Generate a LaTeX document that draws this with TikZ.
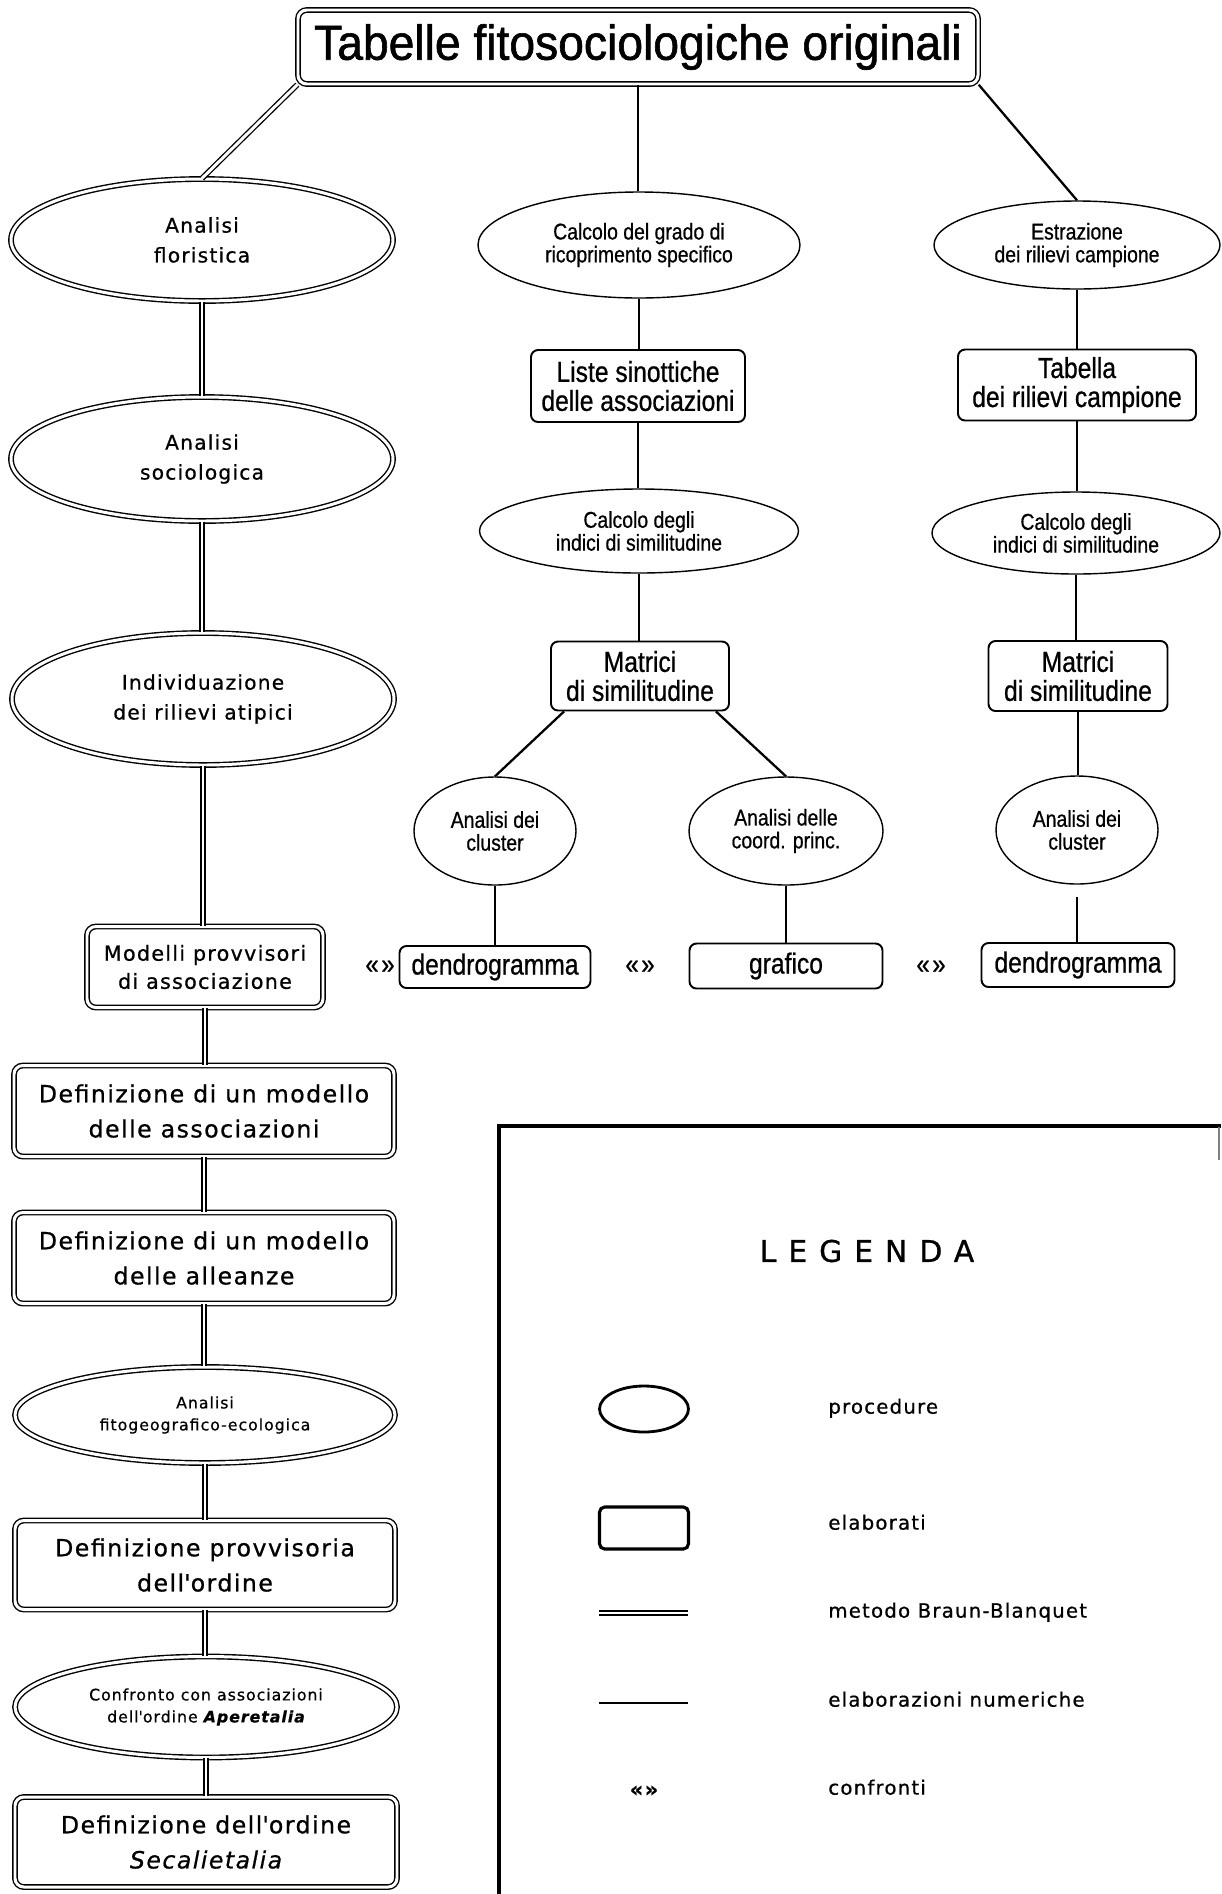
\documentclass[tikz,border=0pt]{standalone}
\usepackage{fontspec}
\setmainfont{Liberation Sans}
\newfontfamily\titlef[FakeStretch=0.94,FakeBold=1.2]{Liberation Sans}
\newfontfamily\condf[FakeStretch=0.85,FakeBold=0.7]{Liberation Sans}
\newfontfamily\widef[LetterSpace=6,FakeBold=0.7]{DejaVu Sans}
\newfontfamily\legf[LetterSpace=40,FakeBold=0.9]{DejaVu Sans}
\usetikzlibrary{shapes.geometric,calc}
\begin{document}
\begin{tikzpicture}[x=0.02cm,y=-0.02cm,
  sz/.style 2 args={minimum width=#1*0.02cm, minimum height=#2*0.02cm},
  proctwo/.style={ellipse, draw, double, double distance=1.7pt, line width=0.8pt, inner sep=0pt, align=center},
  elabtwo/.style={rectangle, rounded corners=5pt, draw, double, double distance=1.7pt, line width=0.8pt, inner sep=0pt, align=center},
  procone/.style={ellipse, draw, line width=0.8pt, inner sep=0pt, align=center},
  elabone/.style={rectangle, rounded corners=4pt, draw, line width=1.1pt, inner sep=0pt, align=center},
  bb/.style={double, double distance=1.7pt, line width=0.75pt},
  num/.style={line width=0.7pt},
  numthick/.style={line width=1.3pt},
  fbigbox/.style={font=\widef\fontsize{13.5}{20}\selectfont},
  fmodel/.style={font=\widef\fontsize{11.8}{16}\selectfont},
  fbigell/.style={font=\widef\fontsize{11.5}{17}\selectfont},
  fsmallell/.style={font=\widef\fontsize{9}{12.5}\selectfont},
  fcbox/.style={font=\condf\fontsize{16.5}{16.5}\selectfont},
  fcell/.style={font=\condf\fontsize{13}{13}\selectfont},
  cmp/.style={inner sep=0pt, anchor=mid, font=\condf\fontsize{16}{16}\selectfont},
  leglabel/.style={inner sep=0pt, anchor=mid west, font=\widef\fontsize{11.25}{13}\selectfont}
]
\fill[white] (0,0) rectangle (1221,1894);
\useasboundingbox (0,0) rectangle (1221,1894);

% title
\node[elabtwo, sz={680}{74}, font=\titlef\fontsize{28}{30}\selectfont] (title) at (638,47) {Tabelle fitosociologiche originali};

% left column (Braun-Blanquet)
\node[proctwo, sz={382}{122}, fbigell] (flor) at (202,240) {Analisi\\floristica};
\node[proctwo, sz={382}{124}, fbigell] (socio) at (202,459) {Analisi\\sociologica};
\node[proctwo, sz={382}{132}, fbigell] (indiv) at (203,699) {Individuazione\\dei rilievi atipici};
\node[elabtwo, sz={236}{81}, fmodel] (modelli) at (205,967) {Modelli provvisori\\di associazione};
\node[elabtwo, sz={380}{91}, fbigbox] (defa) at (204,1111) {Definizione di un modello\\delle associazioni};
\node[elabtwo, sz={380}{91}, fbigbox] (defb) at (204,1258) {Definizione di un modello\\delle alleanze};
\node[proctwo, sz={380}{96}, fsmallell] (fito) at (205,1415) {Analisi\\fitogeografico-ecologica};
\node[elabtwo, sz={380}{89}, fbigbox] (defprov) at (205,1565) {Definizione provvisoria\\dell\textquotesingle ordine};
\node[proctwo, sz={382}{101}, fsmallell] (confr) at (206,1707) {Confronto con associazioni\\dell\textquotesingle ordine {\bfseries\itshape Aperetalia}};
\node[elabtwo, sz={382}{90}, fbigbox] (deford) at (206,1842) {Definizione dell\textquotesingle ordine\\{\itshape Secalietalia}};

% middle column
\node[procone, sz={322}{106}, fcell] (calca) at (639,245) {Calcolo del grado di\\ricoprimento specifico};
\node[elabone, sz={214}{72}, fcbox] (liste) at (638,386) {Liste sinottiche\\delle associazioni};
\node[procone, sz={319}{84}, fcell] (calcb) at (639,531) {Calcolo degli\\indici di similitudine};
\node[elabone, sz={178}{69}, fcbox] (matra) at (640,676) {Matrici\\di similitudine};
\node[procone, sz={162}{108}, fcell] (clusa) at (495,831) {Analisi dei\\cluster};
\node[procone, sz={194}{108}, fcell] (coord) at (786,831) {Analisi delle\\coord. princ.};
\node[elabone, sz={191}{42}, fcbox] (dendra) at (495,967) {dendrogramma};
\node[elabone, sz={193}{45}, fcbox] (graf) at (786,966) {grafico};

% right column
\node[procone, sz={286}{88}, fcell] (estr) at (1077,245) {Estrazione\\dei rilievi campione};
\node[elabone, sz={238}{71}, fcbox] (tab) at (1077,385) {Tabella\\dei rilievi campione};
\node[procone, sz={288}{82}, fcell] (calcc) at (1076,533) {Calcolo degli\\indici di similitudine};
\node[elabone, sz={179}{70}, fcbox] (matrb) at (1078,676) {Matrici\\di similitudine};
\node[procone, sz={162}{108}, fcell] (clusb) at (1077,830) {Analisi dei\\cluster};
\node[elabone, sz={193}{44}, fcbox] (dendrb) at (1078,965) {dendrogramma};

% comparisons
\node[cmp] (cmpa) at (380,969) {«\hspace{1.5pt}»};
\node[cmp] (cmpb) at (640,969) {«\hspace{1.5pt}»};
\node[cmp] (cmpc) at (931,969) {«\hspace{1.5pt}»};

% connectors: Braun-Blanquet
\draw[bb] (title.south west) -- (flor.north);
\draw[bb] (flor.south) -- (flor.south |- socio.north);
\draw[bb] (socio.south) -- (socio.south |- indiv.north);
\draw[bb] (indiv.south) -- (indiv.south |- modelli.north);
\draw[bb] (modelli.south) -- (modelli.south |- defa.north);
\draw[bb] (defa.south) -- (defa.south |- defb.north);
\draw[bb] (defb.south) -- (defb.south |- fito.north);
\draw[bb] (fito.south) -- (fito.south |- defprov.north);
\draw[bb] (defprov.south) -- (defprov.south |- confr.north);
\draw[bb] (confr.south) -- (confr.south |- deford.north);

% connectors: numerical
\draw[num] (title.south) -- (title.south |- calca.north);
\draw[num] (calca.south) -- (calca.south |- liste.north);
\draw[num] (liste.south) -- (liste.south |- calcb.north);
\draw[num] (calcb.south) -- (calcb.south |- matra.north);
\draw[numthick] ($(matra.south west)+(14,0)$) -- (clusa.north);
\draw[numthick] ($(matra.south east)+(-14,0)$) -- (coord.north);
\draw[num] (clusa.south) -- (clusa.south |- dendra.north);
\draw[num] (coord.south) -- (coord.south |- graf.north);

\draw[numthick] (title.south east) -- (estr.north);
\draw[num] (estr.south) -- (estr.south |- tab.north);
\draw[num] (tab.south) -- (tab.south |- calcc.north);
\draw[num] (calcc.south) -- (calcc.south |- matrb.north);
\draw[num] (matrb.south) -- (matrb.south |- clusb.north);
\draw[num, shorten <=7pt] (clusb.south) -- (clusb.south |- dendrb.north);

% legend
\draw[line width=2pt] (499,1894) -- (499,1126) -- (1221,1126);
\draw[line width=0.6pt, gray] (1219,1127) -- (1219,1160);
\node[inner sep=0pt, font=\legf\fontsize{17}{20}\selectfont] (legenda) at (867,1251) {LEGENDA};
\node[ellipse, draw, line width=1.6pt, sz={89}{46}, inner sep=0pt] (lproc) at (644,1409) {};
\node[leglabel] (tproc) at (828,1409) {procedure};
\node[rectangle, rounded corners=3pt, draw, line width=1.8pt, sz={89}{42}, inner sep=0pt] (lelab) at (644,1528) {};
\node[leglabel] (telab) at (828,1525) {elaborati};
\draw[double, double distance=1.3pt, line width=1pt] (599,1613) -- (688,1613);
\node[leglabel] (tbb) at (828,1613) {metodo Braun-Blanquet};
\draw[line width=0.9pt] (599,1703) -- (688,1703);
\node[leglabel] (tnum) at (828,1702) {elaborazioni numeriche};
\node[inner sep=0pt, anchor=mid, font=\widef\bfseries\fontsize{12}{14}\selectfont] (lcmp) at (644,1792) {«»};
\node[leglabel] (tcmp) at (828,1790) {confronti};
\end{tikzpicture}
\end{document}
